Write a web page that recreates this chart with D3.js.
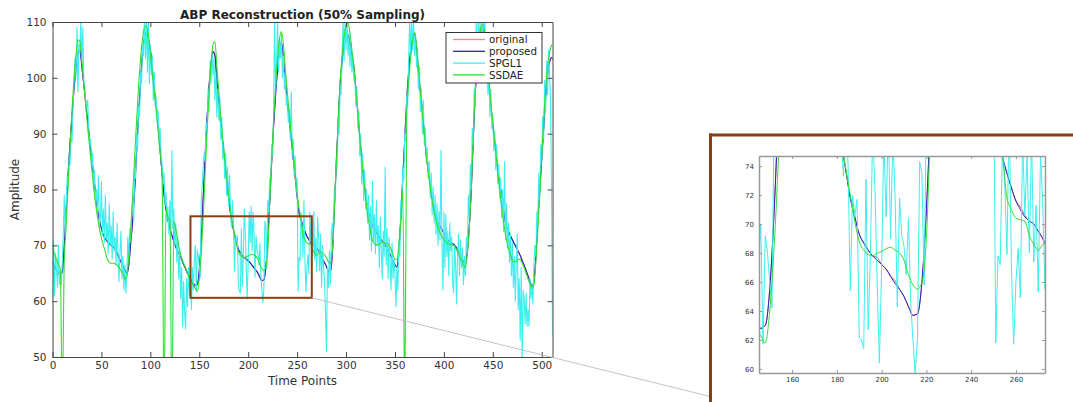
<!DOCTYPE html>
<html><head><meta charset="utf-8">
<script src="https://cdn.jsdelivr.net/npm/d3@7"></script>
<style>body{margin:0;background:#fff;} svg{display:block;font-family:"DejaVu Sans",sans-serif;}</style>
</head><body><svg id="chart" width="1073" height="402"></svg>
<script>
// ---------------- data ----------------
const seriesNames = ["original", "proposed", "SPGL1", "SSDAE"];
const xTicks = [0, 50, 100, 150, 200, 250, 300, 350, 400, 450, 500];
const yTicks = [50, 60, 70, 80, 90, 100, 110];
const insetXTicks = [160, 180, 200, 220, 240, 260];
const insetYTicks = [60, 62, 64, 66, 68, 70, 72, 74];
const smoothStep = 2;   // time step of original / proposed / SSDAE samples
const noisyStep = 1;    // time step of SPGL1 samples
const zoomWindow = [141, 265, 60.6, 75.2]; // t0, t1, v0, v1 of highlighted region

const proposed = [
 67.0,66.3,65.6,65.0,64.7,65.2,70.0,76.5,83.0,88.5,
 93.2,98.0,101.6,104.3,105.0,102.0,98.8,95.5,92.2,88.8,
 85.5,82.5,79.5,76.5,74.5,73.0,71.8,71.2,70.7,70.3,
 70.0,69.7,69.3,68.6,67.8,67.0,66.3,65.6,65.0,66.5,
 70.5,74.5,80.0,87.0,93.5,99.0,104.5,107.2,108.1,107.0,
 105.1,101.5,98.0,95.0,91.5,87.0,82.8,79.0,76.5,74.5,
 73.0,71.8,70.7,69.7,68.9,68.3,67.5,66.6,65.8,65.0,
 64.3,63.7,63.2,62.8,63.0,65.5,71.0,78.5,86.0,93.0,
 98.5,102.5,104.7,104.0,99.5,95.5,91.5,88.5,85.0,81.5,
 78.5,75.6,73.7,71.8,70.5,69.3,68.7,68.2,67.8,67.5,
 67.2,66.9,66.4,65.9,65.5,65.0,64.3,63.7,63.8,66.0,
 71.0,78.0,85.0,91.5,97.0,101.5,104.8,106.3,103.5,99.5,
 95.8,92.2,89.0,85.6,82.3,78.8,75.8,74.6,73.5,72.5,
 71.6,71.0,70.5,70.2,70.0,69.5,69.0,68.3,67.6,66.9,
 66.2,65.4,65.2,68.5,76.5,84.5,92.0,99.0,103.0,105.8,
 107.2,107.7,106.0,104.0,102.0,98.0,94.0,89.5,85.5,82.0,
 79.0,76.6,75.2,74.0,73.2,72.6,72.0,71.4,71.0,70.5,
 70.0,69.5,68.8,68.0,67.2,66.5,66.1,69.0,75.0,82.0,
 89.0,96.0,101.0,105.0,107.2,107.8,105.5,101.0,97.5,94.0,
 90.0,86.1,83.5,81.0,78.5,76.8,75.3,74.0,73.4,72.8,
 72.2,71.6,71.0,70.6,70.4,70.2,69.8,69.2,68.5,67.8,
 67.1,66.8,69.0,73.5,80.0,89.0,97.0,102.5,106.0,108.3,
 108.8,106.0,102.1,99.0,95.0,91.5,88.5,85.5,82.5,80.0,
 77.5,75.0,73.3,72.5,71.7,71.0,70.3,69.6,68.9,68.2,
 67.3,66.4,65.5,64.5,63.5,62.7,63.5,68.0,74.5,80.0,
 85.5,91.0,96.5,100.5,102.8,103.6,103.2];

const original = [
 67.0,66.3,65.6,65.0,64.7,65.2,70.0,76.5,83.0,88.5,
 93.2,98.0,101.6,104.3,105.0,102.0,98.8,95.5,92.2,88.8,
 85.5,82.5,79.5,76.5,74.5,73.0,71.8,71.2,70.7,70.3,
 70.0,69.7,69.3,68.6,67.8,67.0,66.3,65.6,65.0,66.5,
 70.5,74.5,80.0,87.0,93.5,99.0,104.5,107.2,108.1,107.0,
 105.1,101.5,98.0,95.0,91.5,87.0,82.8,79.0,76.5,74.5,
 73.0,71.8,70.7,69.7,68.9,68.3,67.5,66.6,65.8,65.0,
 64.3,63.7,63.2,62.8,63.0,65.5,71.0,78.5,86.0,93.0,
 98.5,102.5,104.7,104.0,99.5,95.5,91.5,88.5,85.0,81.5,
 78.5,75.6,73.7,71.8,70.5,69.3,68.7,68.2,67.8,67.7,
 67.2,66.9,66.4,66.1,65.5,65.0,64.3,63.7,63.8,66.0,
 71.0,78.0,85.0,91.5,97.0,101.5,104.8,106.3,103.5,99.5,
 95.8,92.2,89.0,85.6,82.3,78.8,75.8,74.6,73.5,72.5,
 71.6,71.2,70.6,70.2,70.0,69.5,69.0,68.3,67.6,66.9,
 66.2,65.4,65.2,68.5,76.5,84.5,92.0,99.0,103.0,105.8,
 107.2,107.7,106.0,104.0,102.0,98.0,94.0,89.5,85.5,82.0,
 79.0,76.6,75.2,74.0,73.2,72.6,72.0,71.4,71.0,70.5,
 70.0,69.5,68.8,68.0,67.2,66.5,66.1,69.0,75.0,82.0,
 89.0,96.0,101.0,105.0,107.2,107.8,105.5,101.0,97.5,94.0,
 90.0,86.1,83.5,81.0,78.5,76.8,75.3,74.0,73.4,72.8,
 72.2,71.6,71.0,70.6,70.4,70.2,69.8,69.2,68.5,67.8,
 67.1,66.8,69.0,73.5,80.0,89.0,97.0,102.5,106.0,108.3,
 108.8,106.0,102.1,99.0,95.0,91.5,88.5,85.5,82.5,80.0,
 77.5,75.0,73.3,72.5,71.7,71.0,70.3,69.6,68.9,68.2,
 67.3,66.4,65.5,64.5,63.5,62.7,63.5,68.0,74.5,80.0,
 85.5,91.0,96.5,100.5,102.8,103.6,103.2];

const ssdae = [
 69.5,68.5,67.5,66.5,65.8,42.0,67.0,73.5,81.0,88.0,
 94.5,100.0,104.0,106.8,106.5,103.0,99.0,95.0,91.0,87.5,
 84.0,80.5,77.5,75.0,73.0,71.3,70.0,68.8,67.5,67.0,
 66.8,66.8,66.7,66.5,66.0,65.5,64.8,64.0,64.5,68.0,
 73.0,79.0,86.0,92.5,98.5,103.5,107.0,109.0,109.3,107.5,
 104.5,101.0,97.5,94.0,90.5,86.5,82.5,40.0,76.5,75.0,
 74.5,40.0,74.2,73.0,71.0,69.0,67.7,66.8,66.0,65.0,
 64.2,63.5,62.8,62.3,61.8,64.0,68.5,75.0,83.0,90.5,
 97.0,102.5,106.0,106.5,102.0,97.5,93.0,89.0,85.5,82.0,
 79.0,76.0,73.8,72.0,70.2,68.8,68.2,67.9,67.8,68.0,
 68.1,68.3,68.4,68.2,68.0,67.5,66.5,65.8,65.5,66.0,
 69.0,77.5,85.5,92.5,98.5,103.5,107.0,108.3,106.0,101.5,
 97.5,93.5,90.0,86.5,83.0,79.5,76.5,74.7,71.8,71.0,
 70.4,70.3,70.2,69.2,68.6,68.2,68.6,68.8,68.6,68.3,
 67.8,67.0,66.8,69.0,76.0,84.5,92.5,99.5,104.0,107.5,
 109.3,109.9,108.0,105.0,102.0,98.0,94.0,89.5,85.5,82.0,
 78.5,75.5,73.5,71.5,70.5,70.2,70.0,70.2,70.4,70.5,
 70.4,70.3,70.0,69.3,68.3,67.5,67.5,70.0,74.5,80.0,
 40.0,93.0,99.0,103.5,106.5,108.1,106.0,101.5,97.5,94.0,
 90.0,86.0,83.0,80.5,78.0,76.0,74.5,73.2,72.3,71.6,
 71.0,70.6,70.3,70.2,70.1,70.0,69.5,68.8,68.0,67.3,
 66.5,66.0,68.5,73.0,80.0,89.5,98.0,103.5,107.0,109.2,
 109.6,107.0,103.0,99.5,95.5,92.0,88.5,85.0,81.5,78.5,
 75.5,73.0,71.0,69.5,68.2,67.3,67.0,67.2,67.5,67.4,
 66.8,66.0,65.0,64.0,63.0,62.3,63.0,67.0,73.0,79.5,
 86.0,92.5,98.0,102.0,104.5,105.8,106.0];

const spgl1 = [
 60.5,70.8,61,68.5,66,62.5,70,63,65.5,63,
 67,72,79,71.5,77,82.5,80.5,86,84.5,90,
 88.5,95,99,103.5,100,109,97.5,106,104.5,110.5,
 103,109,99,98.5,96,94.5,96,91,88,89,
 84,86.5,80,83.5,77.5,80,76,82.5,73,75,
 81.5,72,76.5,70.5,79,71,74,68.5,77.5,70,
 73.5,67.5,76,69,71.5,66.5,74,68,63.5,69,
 72.5,64,68,62,66.5,61.5,65,71.5,67,73,
 70.5,76,78,74.5,84,82,90,87.5,95,93,
 101,99,106,104,110.5,103.5,110.5,101,110.5,99,
 106,100.5,104,96,101,95,96.5,92,94,88,
 91,86,84.5,81,83,77,79.5,74.5,77,72,
 78,71.5,87,73,76.5,70,74,67,71.5,64,
 69,60.5,66,55.5,63.5,58,55,64,59,66,
 61,64.5,58.5,66,62,67.5,70,61.7,69.2,68,
 66,64.2,78,80.5,84,86.5,85,92,90.5,98,
 94,103,99,104.5,100.5,103.5,96,101,93,98,
 92.5,96.5,89,93,85.5,88,82,86.5,79,84,
 77,82.5,75.5,73.3,78,74,65.4,72,70.5,71.7,
 62.2,62,61.4,73.1,62.7,68,76.5,72.5,66,60.4,
 67,76,70.5,77,69,76,72,64.3,71.8,69.2,
 68.5,66.5,70.4,64.5,62,59.7,62,74.3,73.5,65.8,
 78,76,82,80.5,88,86,94,111,97.5,103,
 110.5,101,107,103.5,108,100,104,98,101,95,
 97,92,94.5,89,97.5,86,89,82.5,86,79.5,
 82,61.8,67.8,67.2,76,73,67.9,78,67,61.7,
 66,68.3,64.9,76,70.6,74.7,68,76,67.4,71.3,
 65.3,75,71.4,65.5,72,62.5,70,66,64,58,
 51,66,62.5,69,63,72,74,71,80,78,
 86,84,93,90,99,97,104,110.5,103,110.5,
 105,110.5,104,108,102,106.5,101,104,99.5,101,
 95,98.5,91,94,86,90,81,86.5,78,83.5,
 76.5,80,74,79,71,77,69,81.5,70.5,75.5,
 68.5,78,70,73.5,66,75,69,64,72.5,68,
 84,66.5,73,64,71.5,67.5,62,70.5,64,67.5,
 65,59,66,62,71,68,78,76,84,82,
 90,89,97,95,103,110.5,104,110.5,105,110.5,
 104,108,102,105,98,102,94,98,90,96,
 88,91,85,87.5,82,85,78.5,83,75.5,80.5,
 74,79,72,77.5,70,76,71,87,70.5,62,
 76,66,75.5,68,72.5,64.5,74,69,71.5,63,
 61.5,70,66.5,59.5,68.5,72,64.5,71,66,69.5,
 63,68,64.5,71.5,69,79,75,84.5,80,91,
 88,98,95,110.5,101,110.5,106,110.5,110.5,106,
 110.5,108,110.5,100,105,97,101,93,98,91,
 93.5,87,90.5,83.5,88,81,84.5,78.5,82,75,
 80,72.5,85,71,77.5,69.5,74,67,72,64.5,
 70.5,62.5,68,60,66.5,72,58.5,64,53,66,
 49,62,60.5,56,61.5,55.5,58.5,55.5,64,60.5,
 63,59.5,66.5,70,68,76,73,83,78.5,88,
 85,93,89,99.5,94,103,97,105,100.5,96,
 80,54];

// ---------------- styling ----------------
const colors = { original: "#ee5a55", proposed: "#2323c8", SPGL1: "#3eeeee", SSDAE: "#33de33" };
const brown = "#8B3E12";

const toPoints = (arr, step) => arr.map((v, i) => ({ t: i * step, v }));
// drawn in legend order: original, proposed, SPGL1, SSDAE
const series = [
  { name: "original", pts: toPoints(original, smoothStep), curve: d3.curveMonotoneX },
  { name: "proposed", pts: toPoints(proposed, smoothStep), curve: d3.curveMonotoneX },
  { name: "SPGL1", pts: toPoints(spgl1, noisyStep), curve: d3.curveLinear },
  { name: "SSDAE", pts: toPoints(ssdae, smoothStep), curve: d3.curveMonotoneX }
];

const svg = d3.select("#chart");

function drawLines(g, x, y, clipId, width) {
  const lg = g.append("g").attr("clip-path", `url(#${clipId})`);
  series.forEach(s => {
    const line = d3.line().x(d => x(d.t)).y(d => y(d.v)).curve(s.curve);
    lg.append("path").datum(s.pts)
      .attr("fill", "none").attr("stroke", colors[s.name])
      .attr("stroke-width", width).attr("stroke-linejoin", "round")
      .attr("d", line);
  });
}

function addClip(id, x0, y0, w, h) {
  svg.append("clipPath").attr("id", id).append("rect")
    .attr("x", x0).attr("y", y0).attr("width", w).attr("height", h);
}

// ---------------- main panel ----------------
const M = { left: 52.5, right: 552.5, top: 22, bottom: 357 };
const x = d3.scaleLinear().domain([0, 511]).range([M.left, M.right]);
const y = d3.scaleLinear().domain([50, 110]).range([M.bottom, M.top]);
addClip("mainClip", M.left, M.top, M.right - M.left, M.bottom - M.top);

const main = svg.append("g");
drawLines(main, x, y, "mainClip", 1.1);

// zoom rectangle
main.append("rect")
  .attr("x", x(zoomWindow[0])).attr("y", y(zoomWindow[3]))
  .attr("width", x(zoomWindow[1]) - x(zoomWindow[0]))
  .attr("height", y(zoomWindow[2]) - y(zoomWindow[3]))
  .attr("fill", "none").attr("stroke", brown).attr("stroke-width", 2);

const axisColor = "#444";
function styleAxis(sel, color, fs) {
  sel.selectAll("path").attr("stroke", color);
  sel.selectAll("line").attr("stroke", color);
  sel.selectAll("text").attr("fill", "#333").style("font-size", fs + "px")
    .style("font-family", '"DejaVu Sans", sans-serif');
}
styleAxis(main.append("g").attr("transform", `translate(0,${M.bottom})`)
  .call(d3.axisBottom(x).tickValues(xTicks).tickSizeInner(-5).tickSizeOuter(0).tickPadding(5)), axisColor, 10.5);
styleAxis(main.append("g").attr("transform", `translate(0,${M.top})`)
  .call(d3.axisTop(x).tickValues(xTicks).tickSizeInner(-5).tickSizeOuter(0).tickFormat("")), axisColor, 10.5);
styleAxis(main.append("g").attr("transform", `translate(${M.left},0)`)
  .call(d3.axisLeft(y).tickValues(yTicks).tickSizeInner(-5).tickSizeOuter(0).tickPadding(6)), axisColor, 10.5);
styleAxis(main.append("g").attr("transform", `translate(${M.right},0)`)
  .call(d3.axisRight(y).tickValues(yTicks).tickSizeInner(-5).tickSizeOuter(0).tickFormat("")), axisColor, 10.5);

main.append("text").attr("x", (M.left + M.right) / 2).attr("y", 18.5)
  .attr("text-anchor", "middle").attr("font-weight", "bold").attr("font-size", 12)
  .attr("fill", "#222").text("ABP Reconstruction (50% Sampling)");
main.append("text").attr("x", (M.left + M.right) / 2).attr("y", 385)
  .attr("text-anchor", "middle").attr("font-size", 12).attr("fill", "#333").text("Time Points");
main.append("text").attr("transform", `translate(19,${(M.top + M.bottom) / 2}) rotate(-90)`)
  .attr("text-anchor", "middle").attr("font-size", 12).attr("fill", "#333").text("Amplitude");

// legend
const leg = main.append("g").attr("transform", "translate(446,32.5)");
leg.append("rect").attr("width", 96).attr("height", 50.5)
  .attr("fill", "#fff").attr("stroke", "#333").attr("stroke-width", 1);
seriesNames.forEach((n, i) => {
  const yy = 7 + i * 11.8;
  leg.append("line").attr("x1", 7).attr("x2", 39).attr("y1", yy).attr("y2", yy)
    .attr("stroke", n === "original" ? "#f08a86" : colors[n]).attr("stroke-width", 1.3);
  leg.append("text").attr("x", 43).attr("y", yy + 3.7).attr("font-size", 10.3)
    .attr("fill", "#222").text(n);
});

// connector line from zoom box to inset
svg.append("line")
  .attr("x1", x(zoomWindow[1])).attr("y1", y(zoomWindow[2]))
  .attr("x2", 712).attr("y2", 397)
  .attr("stroke", "#b5b5b5").attr("stroke-width", 0.8);

// ---------------- inset panel ----------------
svg.append("line").attr("x1", 709).attr("x2", 1073).attr("y1", 135).attr("y2", 135)
  .attr("stroke", brown).attr("stroke-width", 3);
svg.append("line").attr("x1", 710.5).attr("x2", 710.5).attr("y1", 133.5).attr("y2", 402)
  .attr("stroke", brown).attr("stroke-width", 3);

const I = { left: 759, right: 1045, top: 156, bottom: 373 };
const xi = d3.scaleLinear().domain([145.2, 273]).range([I.left, I.right]);
const yi = d3.scaleLinear().domain([59.72, 74.7]).range([I.bottom, I.top]);
addClip("insetClip", I.left, I.top, I.right - I.left, I.bottom - I.top);
const inset = svg.append("g");
drawLines(inset, xi, yi, "insetClip", 1);

const insetAxis = "#999";
styleAxis(inset.append("g").attr("transform", `translate(0,${I.bottom})`)
  .call(d3.axisBottom(xi).tickValues(insetXTicks).tickSizeInner(-3).tickSizeOuter(0).tickPadding(4)), insetAxis, 7);
styleAxis(inset.append("g").attr("transform", `translate(0,${I.top})`)
  .call(d3.axisTop(xi).tickValues(insetXTicks).tickSizeInner(-3).tickSizeOuter(0).tickFormat("")), insetAxis, 7);
styleAxis(inset.append("g").attr("transform", `translate(${I.left},0)`)
  .call(d3.axisLeft(yi).tickValues(insetYTicks).tickSizeInner(-3).tickSizeOuter(0).tickPadding(5)), insetAxis, 7);
styleAxis(inset.append("g").attr("transform", `translate(${I.right},0)`)
  .call(d3.axisRight(yi).tickValues(insetYTicks).tickSizeInner(-3).tickSizeOuter(0).tickFormat("")), insetAxis, 7);
inset.selectAll("path.domain").attr("stroke-width", 1.5);
</script></body></html>
